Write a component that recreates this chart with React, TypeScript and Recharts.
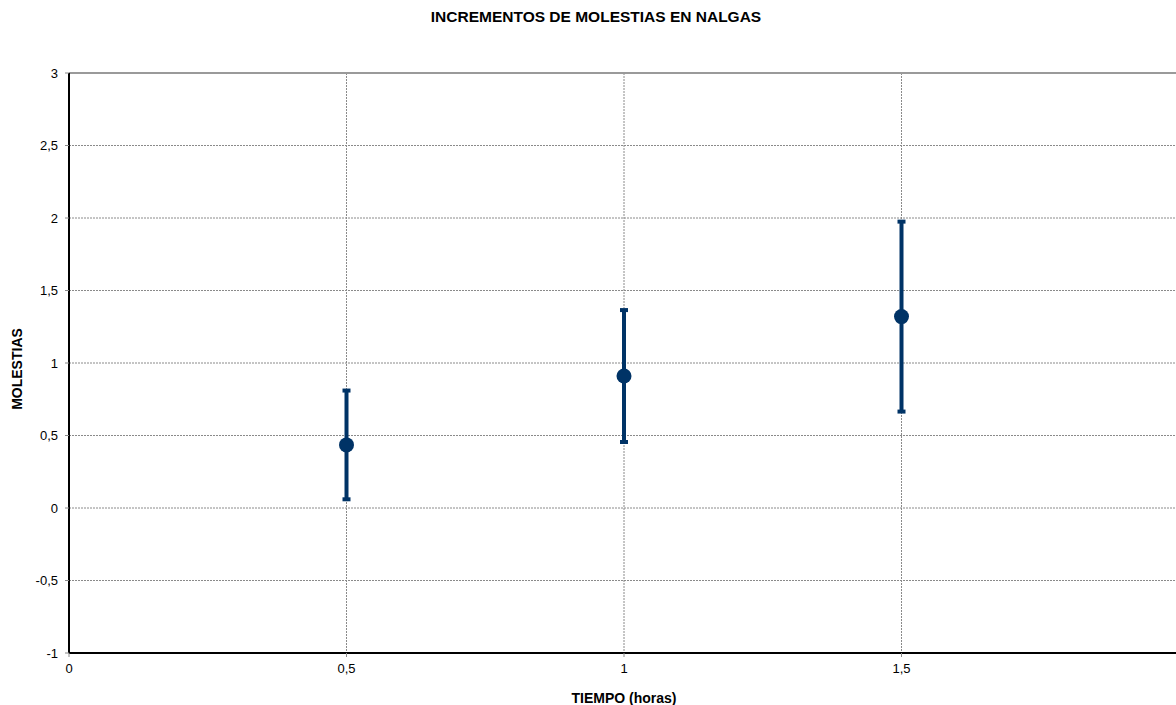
import React from 'react';
import {
  ComposedChart,
  Scatter,
  ErrorBar,
  XAxis,
  YAxis,
  CartesianGrid,
  ReferenceLine,
  Label,
} from 'recharts';

const horas = [0.5, 1, 1.5];
const molestias = [0.435, 0.91, 1.32];
const errores = [0.375, 0.455, 0.655];

const xTicks = [0, 0.5, 1, 1.5];
const yTicks = [-1, -0.5, 0, 0.5, 1, 1.5, 2, 2.5, 3];

const data = horas.map((h, i) => ({ x: h, y: molestias[i], err: errores[i] }));

const fmt = (v: number) => String(v).replace('.', ',');
const NAVY = '#003366';
const FONT = '"Liberation Sans", Arial, sans-serif';

const Dot = (p: any) => <circle cx={p.cx} cy={p.cy} r={7.5} fill={NAVY} />;

const App: React.FC = () => {
  return (
    <div style={{ position: 'absolute', left: 0, top: 0, width: 1176, height: 705, overflow: 'hidden', background: '#fff' }}>
      <div
        style={{
          position: 'absolute',
          top: 8,
          left: 16,
          width: 1160,
          textAlign: 'center',
          fontFamily: FONT,
          fontWeight: 'bold',
          fontSize: 15.5,
          lineHeight: '18px',
        }}
      >
        INCREMENTOS DE MOLESTIAS EN NALGAS
      </div>
      <ComposedChart
        width={1180}
        height={705}
        data={data}
        margin={{ top: 73, right: 1, left: 0, bottom: 22 }}
        style={{ fontFamily: FONT }}
      >
        <CartesianGrid stroke="#8a8a8a" strokeDasharray="2 1" strokeWidth={1} />
        <ReferenceLine y={3} stroke="#9a9a9a" strokeWidth={2} />
        <XAxis
          type="number"
          dataKey="x"
          domain={[0, 2]}
          ticks={xTicks}
          tickFormatter={fmt}
          axisLine={{ stroke: '#000', strokeWidth: 2 }}
          tickLine={{ stroke: '#888' }}
          tickSize={4}
          tickMargin={7}
          tick={{ fill: '#000', fontSize: 13 }}
          height={30}
          allowDataOverflow
        >
          <Label
            value="TIEMPO (horas)"
            position="insideBottom"
            offset={-20}
            style={{ fontWeight: 'bold', fontSize: 14, fill: '#000' }}
          />
        </XAxis>
        <YAxis
          type="number"
          dataKey="y"
          domain={[-1, 3]}
          ticks={yTicks}
          tickFormatter={fmt}
          axisLine={{ stroke: '#000', strokeWidth: 2 }}
          tickLine={{ stroke: '#888' }}
          tickSize={4}
          tickMargin={7}
          tick={{ fill: '#000', fontSize: 13 }}
          width={69}
          allowDataOverflow
        >
          <Label
            content={() => (
              <text
                x={22}
                y={369}
                transform="rotate(-90 22 369)"
                textAnchor="middle"
                style={{ fontWeight: 'bold', fontSize: 14, fill: '#000', fontFamily: FONT }}
              >
                MOLESTIAS
              </text>
            )}
          />
        </YAxis>
        <Scatter dataKey="y" fill={NAVY} shape={Dot} isAnimationActive={false}>
          <ErrorBar dataKey="err" direction="y" width={4} stroke={NAVY} strokeWidth={4} isAnimationActive={false} />
        </Scatter>
      </ComposedChart>
    </div>
  );
};

export default App;
